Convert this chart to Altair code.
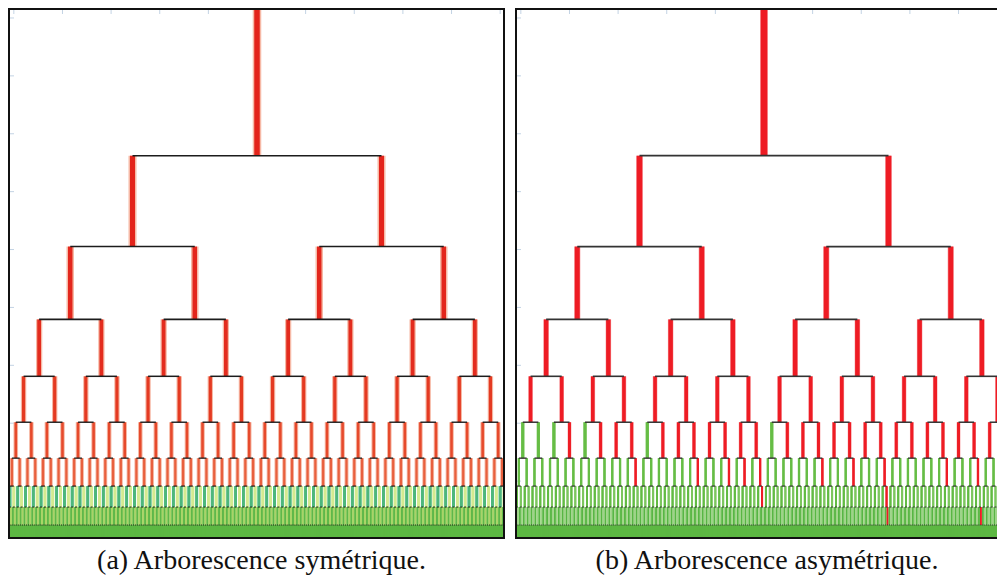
import altair as alt
import pandas as pd

# ---------------- data ----------------
N_LEVELS = 10                      # root .. leaves (512 leaves)
X_SPAN = 512                       # leaf-index units across the full tree
TREE_TOP = 531                     # top of the root branch
# height (from the bottom) at which each level's branch ends / splits
SPLIT_HEIGHTS = [383, 292, 219, 162, 116, 80, 52, 31, 13, 0]

# panel (a) : symmetric tree
A_WIDTHS = [5.5, 5, 4.5, 3.8, 3.2, 2.6, 2.2, 2.8, 1.8, 1.5]
A_HALO = [3, 3, 3, 2.5, 2.2, 2, 1.8, 0, 0, 0]
A_LEVEL_COLORS = ["#e3241b", "#e3241b", "#e3261c", "#e32c1e", "#e43a22",
                  "#e64a2c", "#e8603e", "", "", "#5db843"]
A_HALO_COLOR = "#f6b9a6"
A_L7_COLORS = ["#4db67c", "#d4ea90"]
A_L8_COLORS = ["#5fb848", "#a9d466"]
A_H_WIDTHS = [1.6, 1.6, 1.6, 1.5, 1.4, 1.3, 1.2, 1.0, 1.0]

# panel (b) : asymmetric tree
B_WIDTHS = [6.5, 5.5, 5, 4.5, 3.6, 3.0, 2.2, 2.0, 1.6, 1.5]
B_HALO = [1.5, 1.5, 1.2, 1.0, 1.0, 0.8, 0, 0, 0, 0]
B_RED = "#ee1c24"
B_HALO_RED = "#f7a3a6"
B_GREEN = "#66bd45"
B_L5 = ["G", "G", "G", "R", "G", "R", "R", "R", "G", "R", "R", "R", "R", "R", "R", "R",
        "G", "R", "R", "R", "R", "R", "R", "R", "R", "R", "R", "R", "R", "R", "R", "G"]
B_L6_RED = [15, 23, 27, 29, 31, 39, 43, 47, 55, 59]
B_L7_RED = [63, 95]
B_L8_RED = [191, 239]
B_L7_COLORS = ["#62bb43", "#7cc65e"]
B_L8_COLORS = ["#58b643", "#9fd487"]
B_H_WIDTHS = [1.8, 1.8, 1.8, 1.6, 1.5, 1.4, 1.2, 1.0, 1.0]

X_TICKS = [6, 56, 106, 156, 206, 256, 306, 356, 406, 456, 506]
Y_TICKS = [521, 463, 405, 347, 289, 231, 173, 115, 57]

CAPTION_A = "(a) Arborescence symétrique."
CAPTION_B = "(b) Arborescence asymétrique."

PLOT_H = 531
PX_PER_UNIT = 498 / 512


def color_a(L, i):
    if L == 7:
        return A_L7_COLORS[i % 2]
    if L == 8:
        return A_L8_COLORS[i % 2]
    return A_LEVEL_COLORS[L]


def color_b(L, i):
    if L <= 4:
        return B_RED
    if L == 5:
        return B_RED if B_L5[i] == "R" else B_GREEN
    if L == 6:
        return B_RED if i in B_L6_RED else B_GREEN
    if L == 7:
        return B_RED if i in B_L7_RED else B_L7_COLORS[i % 2]
    if L == 8:
        return B_RED if i in B_L8_RED else B_L8_COLORS[i % 2]
    return "#5db843"


def build(color_fn, widths, halos, halo_color, hwidths, hcolor):
    verts, horiz = [], []
    for L in range(N_LEVELS):
        n = 2 ** L
        top = TREE_TOP if L == 0 else SPLIT_HEIGHTS[L - 1]
        bot = SPLIT_HEIGHTS[L]
        for i in range(n):
            x = (i + 0.5) * X_SPAN / n
            c = color_fn(L, i)
            red = c in (B_RED,) or L <= 6 and c == A_LEVEL_COLORS[L]
            hc = halo_color if (red and halos[L] > 0) else c
            verts.append(dict(x=x, y=top, y2=bot, c=c, w=widths[L],
                              hc=hc, hw=widths[L] + (halos[L] if red else 0)))
            if L < N_LEVELS - 1:
                m = 2 * n
                horiz.append(dict(x=(2 * i + 0.5) * X_SPAN / m,
                                  x2=(2 * i + 1.5) * X_SPAN / m,
                                  y=bot, c=hcolor, w=hwidths[L]))
    return pd.DataFrame(verts), pd.DataFrame(horiz)


def panel(verts, horiz, width, xmax, caption, right_border, dx):
    xs = alt.Scale(domain=[0, xmax], nice=False, zero=False)
    ys = alt.Scale(domain=[-1, 531], nice=False, zero=False)
    base = alt.Chart(verts).mark_rule(clip=True)
    halo = base.encode(
        x=alt.X("x:Q", scale=xs, axis=None),
        y=alt.Y("y:Q", scale=ys, axis=None),
        y2="y2:Q",
        color=alt.Color("hc:N", scale=None),
        strokeWidth=alt.StrokeWidth("hw:Q", scale=None),
    )
    v = base.encode(
        x=alt.X("x:Q", scale=xs, axis=None),
        y=alt.Y("y:Q", scale=ys, axis=None),
        y2="y2:Q",
        color=alt.Color("c:N", scale=None),
        strokeWidth=alt.StrokeWidth("w:Q", scale=None),
    )
    h = alt.Chart(horiz).mark_rule(clip=True).encode(
        x=alt.X("x:Q", scale=xs, axis=None),
        x2="x2:Q",
        y=alt.Y("y:Q", scale=ys, axis=None),
        color=alt.Color("c:N", scale=None),
        strokeWidth=alt.StrokeWidth("w:Q", scale=None),
    )
    xt = alt.Chart(pd.DataFrame({"t": X_TICKS})).mark_rule(
        clip=True, color="#c3d3e4", strokeWidth=1).encode(
        x=alt.X("t:Q", scale=xs, axis=None), y=alt.value(1), y2=alt.value(6))
    yt = alt.Chart(pd.DataFrame({"t": Y_TICKS})).mark_rule(
        clip=True, color="#c3d3e4", strokeWidth=1).encode(
        y=alt.Y("t:Q", scale=ys, axis=None), x=alt.value(1), x2=alt.value(6))
    one = pd.DataFrame({"k": [0]})
    frame = [
        alt.Chart(one).mark_rule(color="#111", strokeWidth=2, clip=True).encode(
            y=alt.value(1), x=alt.value(0), x2=alt.value(width)),
        alt.Chart(one).mark_rule(color="#111", strokeWidth=2, clip=True).encode(
            y=alt.value(PLOT_H - 1), x=alt.value(0), x2=alt.value(width)),
        alt.Chart(one).mark_rule(color="#111", strokeWidth=2, clip=True).encode(
            x=alt.value(1), y=alt.value(0), y2=alt.value(PLOT_H)),
    ]
    if right_border:
        frame.append(alt.Chart(one).mark_rule(color="#111", strokeWidth=2, clip=True).encode(
            x=alt.value(width - 1), y=alt.value(0), y2=alt.value(PLOT_H)))
    return alt.layer(xt, yt, halo, v, h, *frame).properties(
        width=width, height=PLOT_H,
        title=alt.TitleParams(text=caption, orient="bottom", anchor="middle",
                              font="Liberation Serif", fontSize=28,
                              fontWeight="normal", color="#111", offset=8, dx=dx),
    )


va, ha = build(color_a, A_WIDTHS, A_HALO, A_HALO_COLOR, A_H_WIDTHS, "#1c1c1c")
vb, hb = build(color_b, B_WIDTHS, B_HALO, B_HALO_RED, B_H_WIDTHS, "#333333")

WA, WB = 497, 482
pa = panel(va, ha, WA, X_SPAN * WA / 498, CAPTION_A, True, 5)
pb = panel(vb, hb, WB, WB / PX_PER_UNIT, CAPTION_B, False, 7 + (490 - WB) / 2)

chart = alt.hconcat(pa, pb, spacing=10, padding=0).configure(
    background="white", padding=0).configure_view(stroke=None)

chart.save("out.html", embed_options={"renderer": "svg", "actions": False})
